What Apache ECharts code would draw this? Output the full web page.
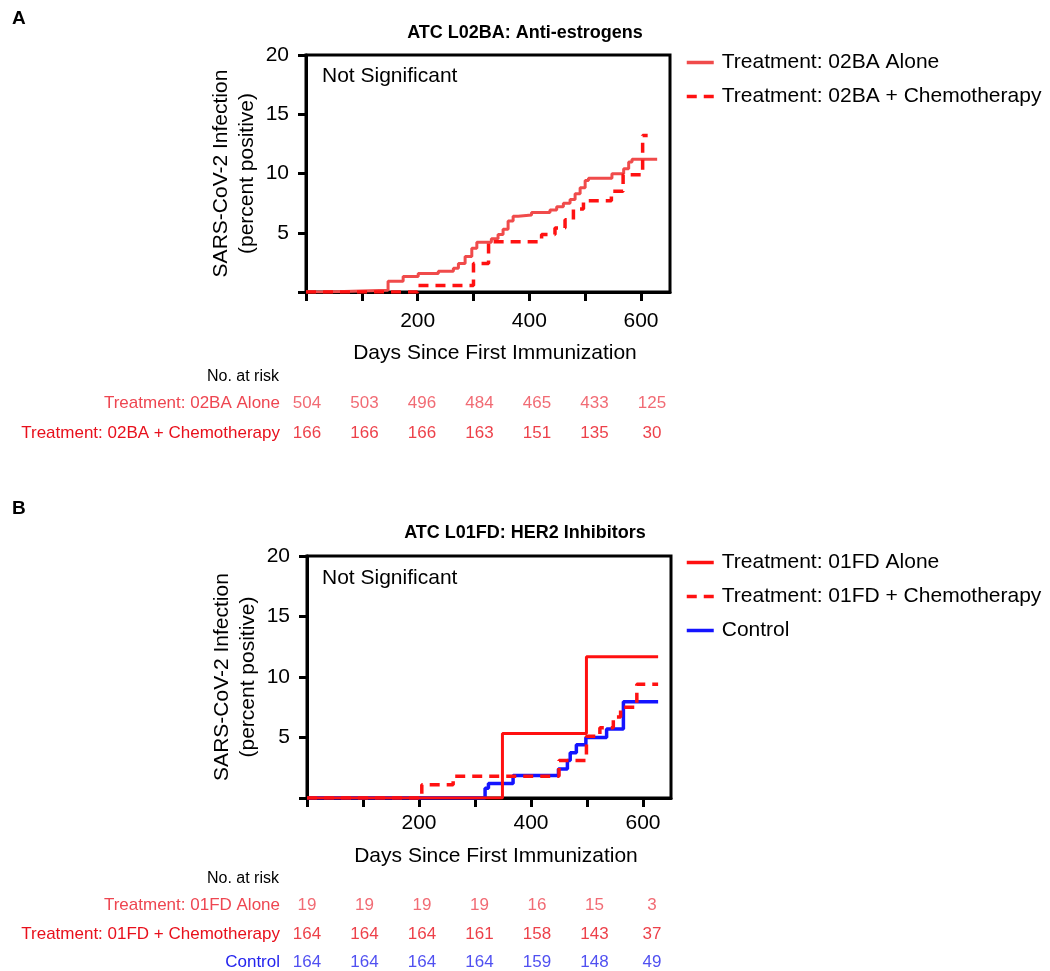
<!DOCTYPE html>
<html>
<head>
<meta charset="utf-8">
<script src="https://cdn.jsdelivr.net/npm/echarts@6/dist/echarts.min.js"></script>
<style>
  html, body { margin: 0; padding: 0; background: #fff; }
  #chart { width: 1050px; height: 971px; }
</style>
</head>
<body>
<div id="chart"></div>
<script>
// ---------- data ----------
const dayTicks = [0, 100, 200, 300, 400, 500, 600];
const dayLabels = [200, 400, 600];
const pctTicks = [0, 5, 10, 15, 20];

// Panel A: ATC L02BA (cumulative % positive, step curves: [day, percent])
const aAloneName = 'Treatment: 02BA Alone';
const aChemoName = 'Treatment: 02BA + Chemotherapy';
const aAlone = [[0,0],[36,0.15],[147,0.9],[174,1.3],[201,1.57],[237,1.76],[264,2.0],[273,2.4],[285,3.0],[297,3.7],[306,4.2],[332,4.5],[344,4.85],[353,5.3],[362,6.0],[371,6.4],[380,6.5],[404,6.7],[437,6.93],[449,7.2],[461,7.5],[473,7.8],[482,8.3],[491,8.8],[500,9.4],[506,9.6],[548,9.97],[569,10.4],[578,10.97],[584,11.2],[629,11.2]];
const aChemo = [[0,0],[200,0.55],[300,2.4],[327,4.25],[422,4.85],[446,5.4],[464,6.1],[479,7.0],[497,7.7],[547,8.5],[568,9.9],[603,13.2],[612,13.2]];

// Panel B: ATC L01FD
const bAloneName = 'Treatment: 01FD Alone';
const bChemoName = 'Treatment: 01FD + Chemotherapy';
const bControlName = 'Control';
const bAlone = [[0,0],[349,5.33],[499,11.67],[627,11.67]];
const bChemo = [[0,0],[205,1.1],[261,1.8],[450,3.1],[499,5.1],[523,5.8],[547,6.7],[560,7.5],[589,9.4],[627,9.4]];
const bControl = [[0,0],[318,0.8],[324,1.2],[368,1.86],[449,2.4],[465,3.1],[470,3.75],[481,4.4],[498,5.0],[535,5.7],[565,7.95],[627,7.95]];

// Numbers at risk (columns at days 0..600 step 100)
const riskCols = [0, 1, 2, 3, 4, 5, 6];
const riskA_alone = [504, 503, 496, 484, 465, 433, 125];
const riskA_chemo = [166, 166, 166, 163, 151, 135, 30];
const riskB_alone = [19, 19, 19, 19, 16, 15, 3];
const riskB_chemo = [164, 164, 164, 161, 158, 143, 37];
const riskB_control = [164, 164, 164, 164, 159, 148, 49];

// ---------- styles ----------
const FONT = '"Liberation Sans", Arial, Helvetica, sans-serif';
const C_ALONE_A = '#F04B4B';
const C_CHEMO = '#FF1111';
const C_ALONE_B = '#FF1010';
const C_BLUE = '#1414FF';
const T_ALONE = '#EE4651';
const T_CHEMO = '#E8101C';
const T_CONTROL = '#2424EE';

function plotX(gi, max, labelMargin, nameGap) {
  return {
    gridIndex: gi, type: 'value', min: 0, max: max,
    axisLine: { show: true, onZero: false, lineStyle: { color: '#000', width: 3 } },
    axisTick: { show: true, length: 9, inside: false, customValues: dayTicks, lineStyle: { color: '#000', width: 3 } },
    axisLabel: { customValues: dayLabels, margin: labelMargin, fontSize: 21, color: '#000', fontFamily: FONT },
    splitLine: { show: false },
    name: 'Days Since First Immunization', nameLocation: 'middle', nameGap: nameGap,
    nameTextStyle: { fontSize: 21, color: '#000', fontFamily: FONT, padding: [0, 0, 0, 14] }
  };
}
function plotY(gi) {
  return {
    gridIndex: gi, type: 'value', min: 0, max: 20,
    axisLine: { show: true, onZero: false, lineStyle: { color: '#000', width: 3 } },
    axisTick: { show: true, length: 8, customValues: pctTicks, lineStyle: { color: '#000', width: 3 } },
    axisLabel: { customValues: pctTicks.filter(v => v > 0), margin: 17, fontSize: 21, color: '#000', fontFamily: FONT },
    splitLine: { show: false },
    name: 'SARS-CoV-2 Infection\n(percent positive)', nameLocation: 'middle', nameGap: 46,
    nameTextStyle: { fontSize: 21, lineHeight: 26, color: '#000', fontFamily: FONT }
  };
}
function tableX(gi) {
  return { gridIndex: gi, type: 'value', min: 0, max: 6, show: false };
}
function tableY(gi, rows, colors) {
  return {
    gridIndex: gi, type: 'category', data: rows, inverse: true,
    axisLine: { show: false }, axisTick: { show: false }, splitLine: { show: false },
    axisLabel: { margin: 27, fontSize: 17, fontFamily: FONT, color: (v, i) => colors[i] }
  };
}
function riskSeries(xi, yi, rowName, values, color) {
  return {
    type: 'scatter', xAxisIndex: xi, yAxisIndex: yi, symbolSize: 1,
    itemStyle: { color: 'rgba(0,0,0,0)' }, silent: true,
    data: values.map((v, i) => [riskCols[i], rowName, v]),
    label: { show: true, position: 'inside', formatter: p => p.value[2], color: color, fontSize: 17, fontFamily: FONT }
  };
}
function kmSeries(name, xi, yi, data, color, dashed, width) {
  return {
    name: name, type: 'line', step: 'end', xAxisIndex: xi, yAxisIndex: yi,
    symbol: 'none', data: data, silent: true,
    lineStyle: { color: color, width: width, type: dashed ? [10, 7] : 'solid', cap: 'butt' },
    itemStyle: { color: color }
  };
}
const legendCommon = {
  orient: 'vertical', left: 680, itemWidth: 27, itemHeight: 14, itemGap: 13,
  itemStyle: { opacity: 0, borderWidth: 0 },
  lineStyle: { width: 3.5 },
  textStyle: { fontSize: 21, color: '#000', fontFamily: FONT, padding: [0, 0, 0, 3] }
};

const chart = echarts.init(document.getElementById('chart'), null, { renderer: 'canvas' });
chart.setOption({
  animation: false,
  backgroundColor: '#fff',
  textStyle: { fontFamily: FONT },
  title: [
    { text: 'ATC L02BA: Anti-estrogens', left: 520, top: 19, textAlign: 'center',
      textStyle: { fontSize: 18, fontWeight: 'bold', color: '#000', fontFamily: FONT } },
    { text: 'ATC L01FD: HER2 Inhibitors', left: 520, top: 519, textAlign: 'center',
      textStyle: { fontSize: 18, fontWeight: 'bold', color: '#000', fontFamily: FONT } }
  ],
  legend: [
    Object.assign({}, legendCommon, { top: 47, data: [aAloneName, aChemoName] }),
    Object.assign({}, legendCommon, { top: 547, data: [bAloneName, bChemoName, bControlName] })
  ],
  grid: [
    { left: 306, top: 55, width: 364, height: 237, show: true, borderColor: '#000', borderWidth: 3, backgroundColor: 'transparent', outerBoundsMode: 'none' },
    { left: 307, top: 388, width: 345, height: 60, outerBoundsMode: 'none' },
    { left: 307, top: 556, width: 364, height: 242, show: true, borderColor: '#000', borderWidth: 3, backgroundColor: 'transparent', outerBoundsMode: 'none' },
    { left: 307, top: 891, width: 345, height: 86, outerBoundsMode: 'none' }
  ],
  xAxis: [plotX(0, 652, 19, 51), tableX(1), plotX(2, 650, 15, 48), tableX(3)],
  yAxis: [
    plotY(0),
    tableY(1, [aAloneName, aChemoName], [T_ALONE, T_CHEMO]),
    plotY(2),
    tableY(3, [bAloneName, bChemoName, bControlName], [T_ALONE, T_CHEMO, T_CONTROL])
  ],
  graphic: [
    { type: 'text', left: 12, top: 9, style: { text: 'A', fontSize: 19, fontWeight: 'bold', fill: '#000', fontFamily: FONT } },
    { type: 'text', left: 12, top: 499, style: { text: 'B', fontSize: 19, fontWeight: 'bold', fill: '#000', fontFamily: FONT } },
    { type: 'text', left: 322, top: 66, style: { text: 'Not Significant', fontSize: 21, fill: '#000', fontFamily: FONT } },
    { type: 'text', left: 322, top: 568, style: { text: 'Not Significant', fontSize: 21, fill: '#000', fontFamily: FONT } },
    { type: 'text', x: 279, y: 377, style: { text: 'No. at risk', fontSize: 16, fill: '#000', fontFamily: FONT, align: 'right', verticalAlign: 'middle' } },
    { type: 'text', x: 279, y: 879, style: { text: 'No. at risk', fontSize: 16, fill: '#000', fontFamily: FONT, align: 'right', verticalAlign: 'middle' } }
  ],
  series: [
    kmSeries(aAloneName, 0, 0, aAlone, C_ALONE_A, false, 3),
    kmSeries(aChemoName, 0, 0, aChemo, C_CHEMO, true, 3.5),
    kmSeries(bControlName, 2, 2, bControl, C_BLUE, false, 3.5),
    kmSeries(bChemoName, 2, 2, bChemo, C_CHEMO, true, 3.5),
    kmSeries(bAloneName, 2, 2, bAlone, C_ALONE_B, false, 3),
    riskSeries(1, 1, aAloneName, riskA_alone, T_ALONE),
    riskSeries(1, 1, aChemoName, riskA_chemo, T_CHEMO),
    riskSeries(3, 3, bAloneName, riskB_alone, T_ALONE),
    riskSeries(3, 3, bChemoName, riskB_chemo, T_CHEMO),
    riskSeries(3, 3, bControlName, riskB_control, T_CONTROL)
  ]
});
</script>
</body>
</html>
